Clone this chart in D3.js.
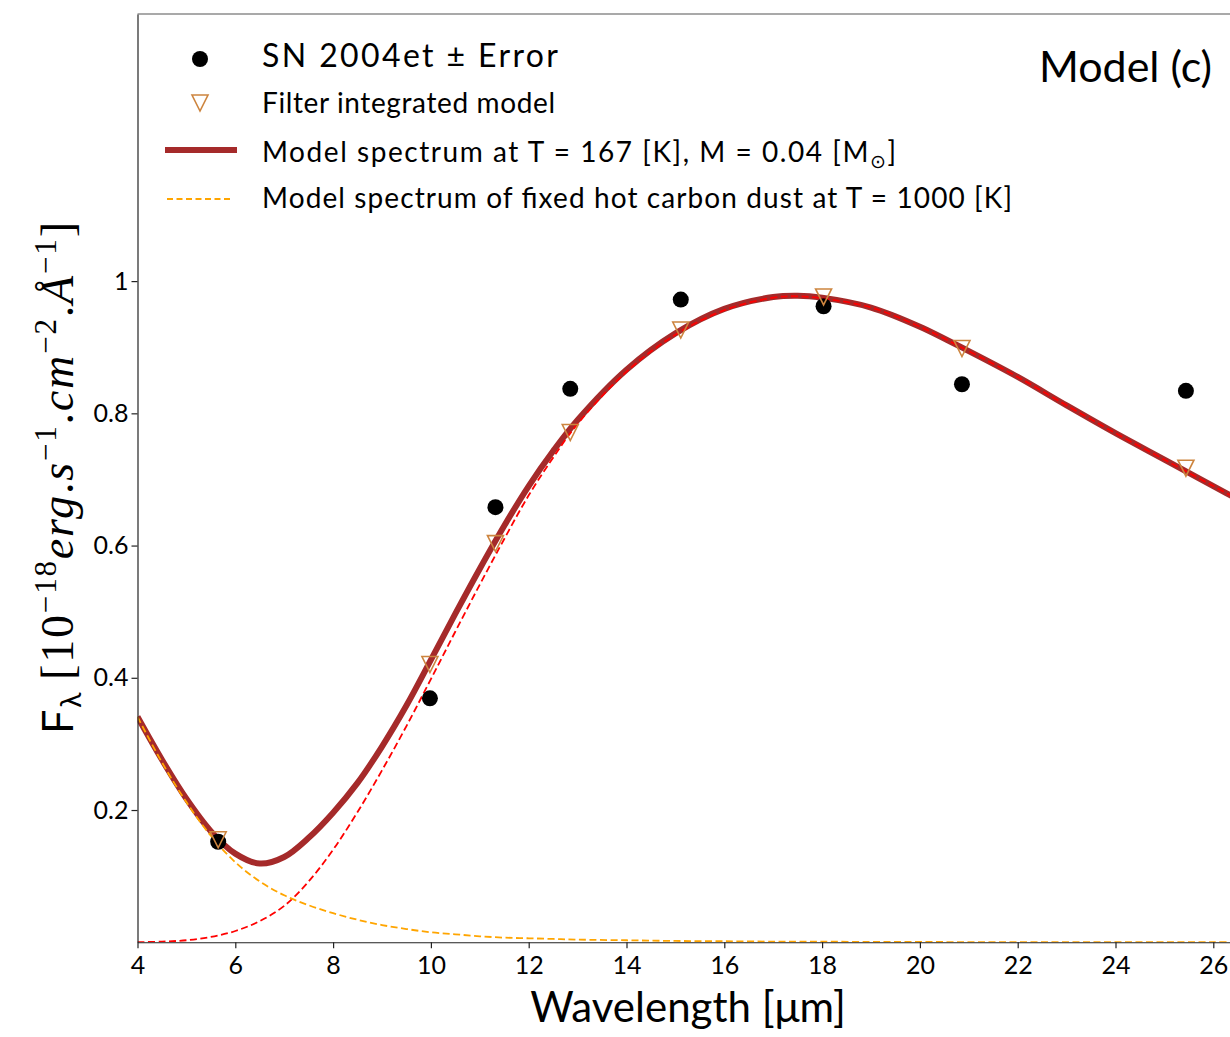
<!DOCTYPE html>
<html>
<head>
<meta charset="utf-8">
<script src="https://cdn.jsdelivr.net/npm/d3@7"></script>
<style>
  body { margin: 0; background: #fff; }
  svg text { font-family: Lato, "DejaVu Sans", sans-serif; fill: #000; }
</style>
</head>
<body>
<div id="chart"></div>
<script>
// photometry of SN 2004et (wavelength in micron, flux in 1e-18 units)
const obsWave = [5.65, 9.98, 11.32, 12.85, 15.11, 18.03, 20.86, 25.44];
const obsFlux = [0.152, 0.369, 0.658, 0.837, 0.972, 0.962, 0.844, 0.834];
// model integrated over each filter
const filterFlux = [0.155, 0.420, 0.603, 0.771, 0.926, 0.976, 0.898, 0.717];

// sampled model spectra
const curveWave = [4, 4.5, 5, 5.5, 6, 6.5, 7, 7.5, 8, 8.5, 9, 9.5, 10, 10.5, 11, 11.5, 12, 12.5, 13,
    14, 15, 16, 17, 17.5, 18, 19, 20, 21, 22, 23, 24, 25, 26, 26.7];
const modelFlux = [0.341, 0.276, 0.217, 0.168, 0.134, 0.119, 0.129, 0.158, 0.196, 0.241, 0.296, 0.358, 0.427,
    0.497, 0.565, 0.630, 0.690, 0.743, 0.790, 0.866, 0.921, 0.958, 0.976, 0.978, 0.975, 0.960, 0.931, 0.894,
    0.855, 0.812, 0.770, 0.730, 0.690, 0.662];
const warmFlux = [0.000, 0.001, 0.003, 0.008, 0.017, 0.032, 0.055, 0.092, 0.140, 0.197, 0.260, 0.327, 0.398,
    0.470, 0.541, 0.610, 0.676, 0.733, 0.784, 0.863, 0.919, 0.956, 0.975, 0.977, 0.974, 0.960, 0.931, 0.894,
    0.855, 0.812, 0.770, 0.730, 0.690, 0.662];
const hotFlux = [0.341, 0.272, 0.212, 0.161, 0.121, 0.092, 0.071, 0.056, 0.044, 0.034, 0.026, 0.020, 0.015,
    0.012, 0.009, 0.007, 0.006, 0.005, 0.004, 0.003, 0.002, 0.0015, 0.001, 0.0009, 0.0008, 0.0006, 0.0004,
    0.0003, 0.0002, 0.0002, 0.0001, 0.0001, 0.0001, 0.0001];

const xTicks = [4, 6, 8, 10, 12, 14, 16, 18, 20, 22, 24, 26];
const yTicks = [0.2, 0.4, 0.6, 0.8, 1];
const yTickLabels = ['0.2', '0.4', '0.6', '0.8', '1'];

const width = 1230, height = 1037;
const plotLeft = 137.5, plotTop = 14, plotBottom = 942.25;

const x = d3.scaleLinear().domain([4, 26.7]).range([plotLeft, plotLeft + 22.7 * 48.9]);
const y = d3.scaleLinear().domain([0, 1.404]).range([plotBottom, plotTop]);

const svg = d3.select('#chart').append('svg')
    .attr('width', width)
    .attr('height', height);

svg.append('defs').append('clipPath').attr('id', 'plot')
    .append('rect')
    .attr('x', plotLeft).attr('y', plotTop)
    .attr('width', x.range()[1] - plotLeft).attr('height', plotBottom - plotTop);

const plot = svg.append('g').attr('clip-path', 'url(#plot)');

const line = vals => d3.line()
    .x((d, i) => x(curveWave[i]))
    .y(d => y(d))
    .curve(d3.curveCatmullRom.alpha(0.5))(vals);

// full model
plot.append('path')
    .attr('d', line(modelFlux))
    .attr('fill', 'none')
    .attr('stroke', '#a52a2a')
    .attr('stroke-width', 6);

// warm component
plot.append('path')
    .attr('d', line(warmFlux))
    .attr('fill', 'none')
    .attr('stroke', '#ff0000')
    .attr('stroke-width', 1.8)
    .attr('stroke-dasharray', '7,3.5');

// hot carbon dust
plot.append('path')
    .attr('d', line(hotFlux))
    .attr('fill', 'none')
    .attr('stroke', '#ffa500')
    .attr('stroke-width', 1.8)
    .attr('stroke-dasharray', '7,3.5');

const tri = 'M-8,-8L8,-8L0,8Z';

plot.selectAll('circle.obs')
    .data(obsWave)
    .enter().append('circle')
    .attr('class', 'obs')
    .attr('cx', d => x(d))
    .attr('cy', (d, i) => y(obsFlux[i]))
    .attr('r', 8)
    .attr('fill', '#000');

plot.selectAll('path.filt')
    .data(obsWave)
    .enter().append('path')
    .attr('class', 'filt')
    .attr('d', tri)
    .attr('transform', (d, i) => `translate(${x(d)},${y(filterFlux[i])})`)
    .attr('fill', 'none')
    .attr('stroke', '#cd853f')
    .attr('stroke-width', 1.6);

// axes
const xAxis = svg.append('g')
    .attr('transform', `translate(0,${plotBottom})`)
    .call(d3.axisBottom(x).tickValues(xTicks).tickSize(6).tickSizeOuter(0).tickPadding(8));

const yAxis = svg.append('g')
    .attr('transform', `translate(${plotLeft},0)`)
    .call(d3.axisLeft(y).tickValues(yTicks).tickFormat((d, i) => yTickLabels[i])
        .tickSize(6).tickSizeOuter(0).tickPadding(3));

[xAxis, yAxis].forEach(a => {
    a.selectAll('text').attr('font-size', 25).style('font-family', 'Lato, sans-serif');
    a.select('.domain').attr('stroke', '#222').attr('stroke-width', 1.2);
    a.selectAll('.tick line').attr('stroke', '#222').attr('stroke-width', 1.2);
});

// top spine
svg.append('line')
    .attr('x1', plotLeft).attr('x2', width)
    .attr('y1', plotTop).attr('y2', plotTop)
    .attr('stroke', '#555').attr('stroke-width', 1.2);

// x label
svg.append('text')
    .attr('x', 688).attr('y', 1022)
    .attr('text-anchor', 'middle')
    .attr('font-size', 42)
    .text('Wavelength [\u03bcm]');

// y label, mixed sans and serif math
const serif = 'Liberation Serif, DejaVu Serif, serif';
const yl = svg.append('text')
    .attr('transform', 'translate(73,734) rotate(-90)')
    .attr('font-size', 46)
    .attr('textLength', 512)
    .attr('lengthAdjust', 'spacing');
yl.append('tspan').attr('font-size', 43).text('F');
yl.append('tspan').attr('font-size', 28).attr('dy', 8).text('\u03bb');
const math = [
    ['\u2009[10', 0, false], ['\u221218', -17, false], ['erg', 17, true], ['.', 0, false], ['s', 0, true],
    ['\u22121', -17, false], ['.', 17, false], ['cm', 0, true], ['\u22122', -17, false], ['.', 17, false],
    ['\u00c5', 0, true], ['\u22121', -17, false], [']', 17, false]
];
math.forEach(([t, dy], i) => {
    const sup = dy < 0;
    yl.append('tspan')
        .attr('dy', i === 0 ? -8 : dy)
        .attr('font-size', sup ? 31 : 46)
        .attr('font-style', math[i][2] ? 'italic' : 'normal')
        .style('font-family', serif)
        .text(t);
});

// panel tag
svg.append('text')
    .attr('x', 1212).attr('y', 82)
    .attr('text-anchor', 'end')
    .attr('font-size', 43)
    .text('Model (c)');

// legend
const lg = svg.append('g');
lg.append('circle').attr('cx', 200).attr('cy', 59).attr('r', 8).attr('fill', '#000');
lg.append('text').attr('x', 262).attr('y', 67).attr('font-size', 32)
    .attr('textLength', 296).attr('lengthAdjust', 'spacing')
    .text('SN 2004et \u00b1 Error');

lg.append('path').attr('d', tri).attr('transform', 'translate(200,103)')
    .attr('fill', 'none').attr('stroke', '#cd853f').attr('stroke-width', 1.6);
lg.append('text').attr('x', 262).attr('y', 113).attr('font-size', 28)
    .attr('textLength', 293).attr('lengthAdjust', 'spacing')
    .text('Filter integrated model');

lg.append('line').attr('x1', 165).attr('x2', 237).attr('y1', 150).attr('y2', 150)
    .attr('stroke', '#a52a2a').attr('stroke-width', 6);
const t3 = lg.append('text').attr('x', 262).attr('y', 162).attr('font-size', 28)
    .attr('textLength', 634).attr('lengthAdjust', 'spacing');
t3.append('tspan').text('Model spectrum at T = 167 [K], M = 0.04 [M');
t3.append('tspan').attr('font-size', 19).attr('dy', 6).style('font-family', 'DejaVu Sans, sans-serif').text('\u2299');
t3.append('tspan').attr('dy', -6).text(']');

lg.append('line').attr('x1', 167).attr('x2', 233).attr('y1', 199).attr('y2', 199)
    .attr('stroke', '#ffa500').attr('stroke-width', 1.8).attr('stroke-dasharray', '6,3.5');
lg.append('text').attr('x', 262).attr('y', 208).attr('font-size', 28)
    .attr('textLength', 750).attr('lengthAdjust', 'spacing')
    .text('Model spectrum of fixed hot carbon dust at T = 1000 [K]');
</script>
</body>
</html>
